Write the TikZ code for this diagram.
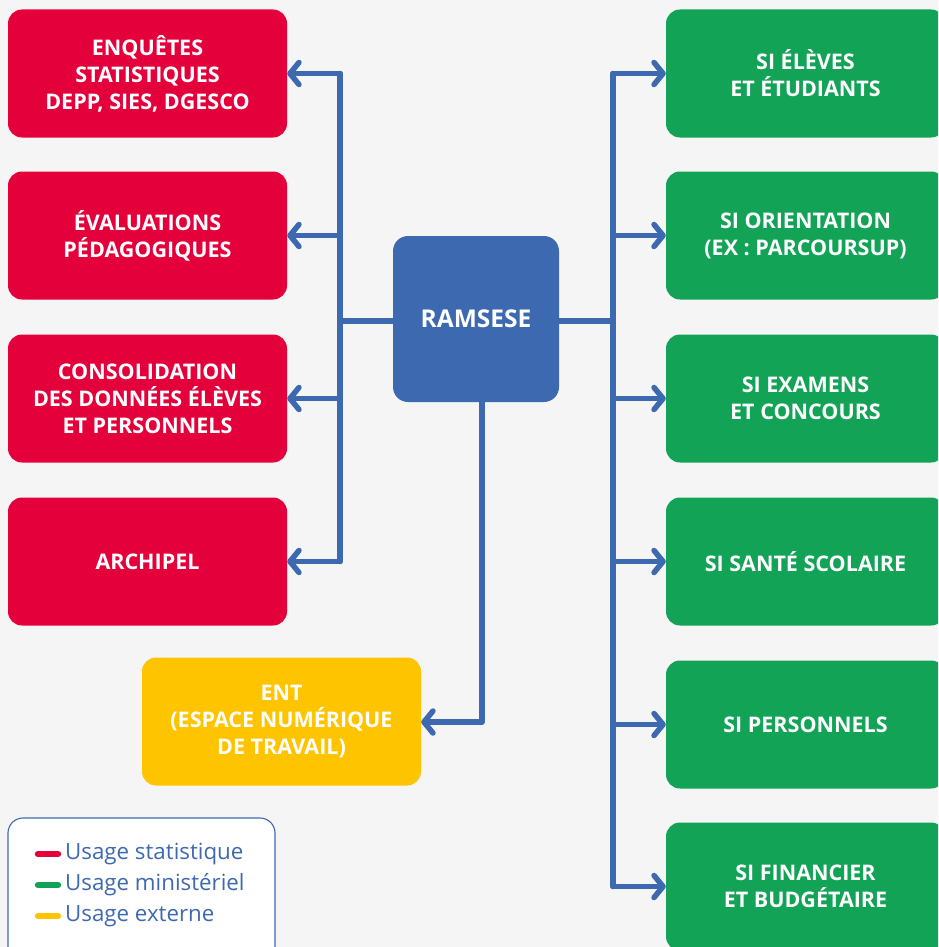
\documentclass[tikz,border=0pt]{standalone}
\usepackage{fontspec}
\setmainfont{Open Sans}
\usetikzlibrary{arrows.meta}
\definecolor{fond}{HTML}{F5F5F5}
\definecolor{rouge}{HTML}{E4003A}
\definecolor{vert}{HTML}{12A356}
\definecolor{jaune}{HTML}{FFC400}
\definecolor{bleu}{HTML}{3D69B0}

\begin{document}
\begin{tikzpicture}[x=1pt,y=-1pt,
    boite/.style={rounded corners=14pt,minimum width=279pt,minimum height=128pt,inner sep=0pt,
      text=white,align=center,font=\bfseries\fontsize{21.5}{27}\selectfont},
    stat/.style={boite,fill=rouge},
    mini/.style={boite,fill=vert},
    ext/.style={boite,fill=jaune},
    lien/.style={bleu,line width=5.5pt,line cap=round,line join=round},
    >={Straight Barb[length=9pt,width=22pt,round]}]
  \fill[fond] (0,0) rectangle (938,947);
  \useasboundingbox (0,0) rectangle (938,947);
  \clip (0,0) rectangle (938,947);

  % usage statistique
  \node[stat] (enq) at (147.5,73.5) {ENQUÊTES\\STATISTIQUES\\DEPP, SIES, DGESCO};
  \node[stat] (eval) at (147.5,235.5) {ÉVALUATIONS\\PÉDAGOGIQUES};
  \node[stat] (cons) at (147.5,398.5) {CONSOLIDATION\\DES DONNÉES ÉLÈVES\\ET PERSONNELS};
  \node[stat] (arch) at (147.5,561.5) {ARCHIPEL};
  % usage externe
  \node[ext] (ent) at (281.5,721.5) {ENT\\(ESPACE NUMÉRIQUE\\DE TRAVAIL)};
  % usage ministeriel
  \node[mini] (eleves) at (805.5,73.5) {SI ÉLÈVES\\ET ÉTUDIANTS};
  \node[mini] (orient) at (805.5,235.5) {SI ORIENTATION\\(EX : PARCOURSUP)};
  \node[mini] (exam) at (805.5,398.5) {SI EXAMENS\\ET CONCOURS};
  \node[mini] (sante) at (805.5,561.5) {SI SANTÉ SCOLAIRE};
  \node[mini] (perso) at (805.5,724.5) {SI PERSONNELS};
  \node[mini] (finan) at (805.5,886.5) {SI FINANCIER\\ET BUDGÉTAIRE};

  \node[boite,fill=bleu,minimum width=166pt,minimum height=166pt,rounded corners=15pt,
    font=\bfseries\fontsize{24.5}{30}\selectfont] (ram) at (476,319) {RAMSESE};

  % branches
  \coordinate (gauche) at (340,321);
  \coordinate (droite) at (613,321);
  \coordinate (bas) at (482,722);
  \draw[lien] (ram.west |- gauche) -- (gauche);
  \draw[lien] (ram.east |- droite) -- (droite);
  \draw[lien] (gauche |- enq.east) -- (gauche |- arch.east);
  \draw[lien] (droite |- eleves.west) -- (droite |- finan.west);
  \foreach \n in {enq,eval,cons,arch}
    \draw[lien,->] (gauche |- \n.east) -- (\n.east);
  \foreach \n in {eleves,orient,exam,sante,perso,finan}
    \draw[lien,->] (droite |- \n.west) -- (\n.west);
  \draw[lien,->] (ram.south -| bas) -- (bas) -- (ent.east |- bas);

  % legende
  \draw[bleu,line width=1.1pt,fill=white,rounded corners=15pt] (8,818) rectangle (275,980);
  \foreach \c/\t/\y [count=\i] in {rouge/Usage statistique/854,vert/Usage ministériel/885,jaune/Usage externe/916}{
    \draw[\c,line width=6.5pt,line cap=round] (38,\y) -- (58,\y);
    \node[anchor=west,text=bleu,inner sep=0pt,font=\fontsize{22.3}{26}\selectfont] (leg\i) at (65,\y) {\t};
  }
\end{tikzpicture}
\end{document}
